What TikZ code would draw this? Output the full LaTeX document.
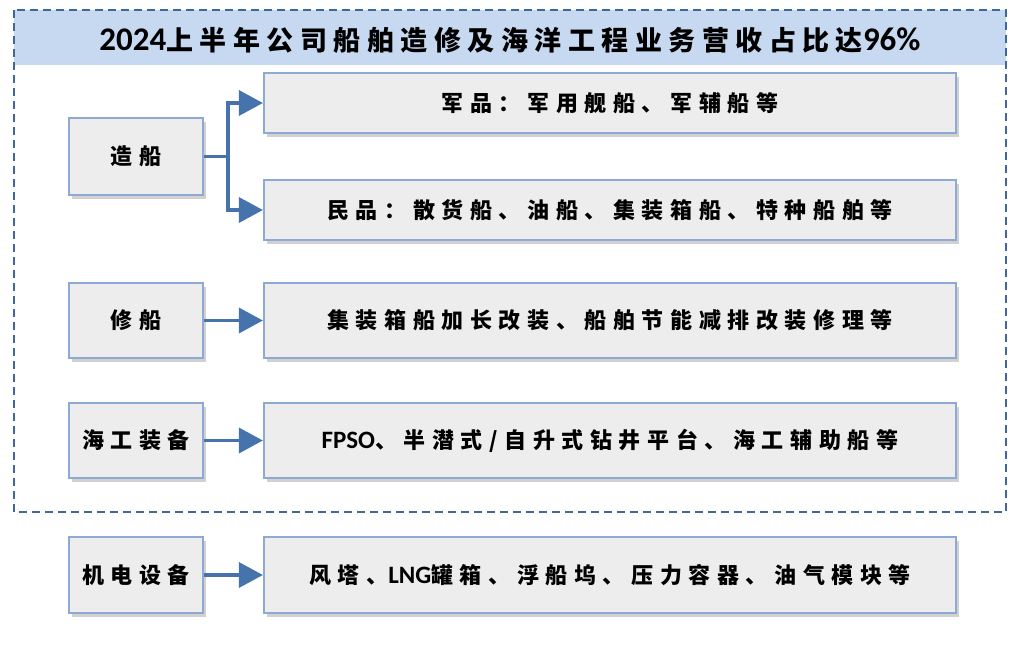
\documentclass[tikz,border=0pt]{standalone}
\usepackage{fontspec}
\setmainfont{Carlito}
\newfontfamily\cjk[LetterSpace=30]{Noto Sans CJK SC}
\newfontfamily\cjkt[LetterSpace=24]{Noto Sans CJK SC}
\newfontfamily\lat{Carlito}
\usetikzlibrary{arrows.meta,shadows}
\definecolor{bandc}{HTML}{C6D9F0}
\definecolor{boxfill}{HTML}{EDEDED}
\definecolor{boxline}{HTML}{8DA9D4}
\definecolor{arrc}{HTML}{4673AC}
\definecolor{dashc}{HTML}{3F679C}
\tikzset{
  box/.style={draw=boxline, line width=2.2pt, fill=boxfill, inner sep=0pt,
    drop shadow={shadow xshift=3pt, shadow yshift=-4pt, fill=black, opacity=0.18},
    font=\cjk\bfseries\fontsize{22}{24}\selectfont},
  lbox/.style={box, minimum width=134pt},
  rbox/.style={box, minimum width=692pt},
  conn/.style={draw=arrc, line width=3.5pt, -{Triangle[length=24pt,width=25pt]}},
  plain/.style={draw=arrc, line width=3.5pt}
}
\newcommand{\latb}[1]{{\lat\bfseries\fontsize{25}{25}\selectfont #1}}
\newcommand{\latt}[1]{{\lat\bfseries\fontsize{33}{33}\selectfont #1}}
\begin{document}
\begin{tikzpicture}[x=1pt,y=-1pt]
\useasboundingbox (0,0) rectangle (1011,651);
% title band and frame
\fill[bandc] (14,10) rectangle (1006,65);
\draw[dashc, line width=1.5pt, dash pattern=on 8pt off 5pt] (14,10) rectangle (1006,512);
\node[font=\cjkt\bfseries\fontsize{27}{30}\selectfont] (title) at (510,40) {\latt{2024}上半年公司船舶造修及海洋工程业务营收占比达\latt{96\%}};
% left boxes
\node[lbox, minimum height=77pt] (l1) at (136,156.5) {造船};
\node[lbox, minimum height=75pt] (l2) at (136,320.5) {修船};
\node[lbox, minimum height=75pt] (l3) at (136,440.5) {海工装备};
\node[lbox, minimum height=76pt] (l4) at (136,575) {机电设备};
% right boxes
\node[rbox, minimum height=60pt] (r1) at (610,103) {军品：军用舰船、军辅船等};
\node[rbox, minimum height=60pt] (r2) at (610,210) {民品：散货船、油船、集装箱船、特种船舶等};
\node[rbox, minimum height=75pt] (r3) at (610,320.5) {集装箱船加长改装、船舶节能减排改装修理等};
\node[rbox, minimum height=75pt] (r4) at (610,440.5) {\latb{FPSO}、半潜式/自升式钻井平台、海工辅助船等};
\node[rbox, minimum height=76pt] (r5) at (610,575) {风塔、\latb{LNG}罐箱、浮船坞、压力容器、油气模块等};
% connectors
\coordinate (j) at (228,156.5);
\draw[plain] (l1.east) -- (j);
\draw[conn] (j) |- (r1.west);
\draw[conn] (j) |- (r2.west);
\draw[conn] (l2.east) -- (r3.west);
\draw[conn] (l3.east) -- (r4.west);
\draw[conn] (l4.east) -- (r5.west);
\end{tikzpicture}
\end{document}
